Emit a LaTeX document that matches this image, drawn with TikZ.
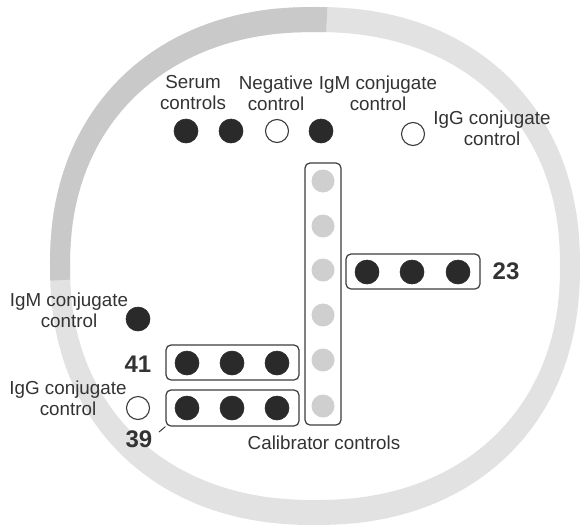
\documentclass[tikz,border=0pt]{standalone}
\usepackage{fontspec}
\setmainfont{Liberation Sans}
\definecolor{ringlight}{HTML}{E2E2E2}
\definecolor{ringdark}{HTML}{C9C9C9}
\definecolor{dotdark}{HTML}{2A2A2A}
\definecolor{calgray}{HTML}{CFCFCF}
\definecolor{linegray}{HTML}{3C3C3C}
\definecolor{textgray}{HTML}{333333}
\begin{document}
\begin{tikzpicture}[x=1pt,y=-1pt,
  dotfill/.style={circle, fill=dotdark, draw=dotdark, line width=0.6pt, minimum size=24pt, inner sep=0pt},
  dotopen/.style={circle, draw=linegray, fill=white, line width=1.1pt, minimum size=23pt, inner sep=0pt},
  dotgray/.style={circle, fill=calgray, minimum size=23pt, inner sep=0pt},
  rowbox/.style={draw=linegray, rounded corners=5pt, line width=1.2pt, inner sep=0pt},
  lbl/.style={font=\fontsize{18.8}{21}\selectfont, align=center, text=textgray, inner sep=0pt},
  num/.style={font=\fontsize{24}{24}\selectfont\bfseries, text=textgray, inner sep=0pt}]
\useasboundingbox (0,0) rectangle (580,525);
% ring (slightly squarish superellipse)
\fill[ringlight, even odd rule]
  plot[domain=0.5:360.5, samples=181] ({315+265*sign(cos(\x))*abs(cos(\x))^(0.91)}, {266+259*sign(sin(\x))*abs(sin(\x))^(0.91)}) -- cycle
  plot[domain=0.5:360.5, samples=181] ({315+245*sign(cos(\x))*abs(cos(\x))^(0.91)}, {266+234*sign(sin(\x))*abs(sin(\x))^(0.91)}) -- cycle;
\begin{scope}
  \clip (315,266) -- (330,-50) -- (-100,-50) -- (-100,289) -- cycle;
  \fill[ringdark, even odd rule]
    plot[domain=0.5:360.5, samples=181] ({315+265*sign(cos(\x))*abs(cos(\x))^(0.91)}, {266+259*sign(sin(\x))*abs(sin(\x))^(0.91)}) -- cycle
    plot[domain=0.5:360.5, samples=181] ({315+245*sign(cos(\x))*abs(cos(\x))^(0.91)}, {266+234*sign(sin(\x))*abs(sin(\x))^(0.91)}) -- cycle;
\end{scope}
% boxes
\node[rowbox, minimum width=36pt, minimum height=262pt] (bcal) at (323,294) {};
\node[rowbox, minimum width=134pt, minimum height=35pt] (b23) at (413,271.5) {};
\node[rowbox, minimum width=133pt, minimum height=35pt] (b41) at (232.5,362.5) {};
\node[rowbox, minimum width=133pt, minimum height=36pt] (b39) at (232.5,408) {};
% calibrator dots
\foreach \i/\y in {1/181,2/226,3/270,4/315,5/360,6/406}
  \node[dotgray] (g\i) at (323,\y) {};
% row 23
\foreach \i/\x in {1/367,2/412,3/458}
  \node[dotfill] (r23\i) at (\x,272) {};
% row 41
\foreach \i/\x in {1/187,2/232,3/277}
  \node[dotfill] (r41\i) at (\x,363) {};
% row 39
\foreach \i/\x in {1/187,2/232,3/277}
  \node[dotfill] (r39\i) at (\x,408) {};
% top row
\node[dotfill] (s1) at (186,131) {};
\node[dotfill] (s2) at (231,131) {};
\node[dotopen] (neg) at (277,131) {};
\node[dotfill] (igmt) at (321,131) {};
\node[dotopen] (iggt) at (413,134) {};
% left controls
\node[dotfill] (igml) at (138,319) {};
\node[dotopen] (iggl) at (138,408) {};
% labels
\node[lbl] (lserum) at (193,93) {Serum\\controls};
\node[lbl] (lneg) at (276,93) {Negative\\control};
\node[lbl] (ligmt) at (378,93) {IgM conjugate\\control};
\node[lbl] (liggt) at (492,128) {IgG conjugate\\control};
\node[lbl] (ligml) at (69,310) {IgM conjugate\\control};
\node[lbl] (liggl) at (68,398) {IgG conjugate\\control};
\node[lbl] (lcal) at (324,443) {Calibrator controls};
\node[num] (n23) at (506,271) {23};
\node[num] (n41) at (138,364) {41};
\node[num] (n39) at (139,439) {39};
\coordinate (t39) at (159,432);
\draw[linegray, line width=1pt] (b39.south west) -- (t39);
\end{tikzpicture}
\end{document}
